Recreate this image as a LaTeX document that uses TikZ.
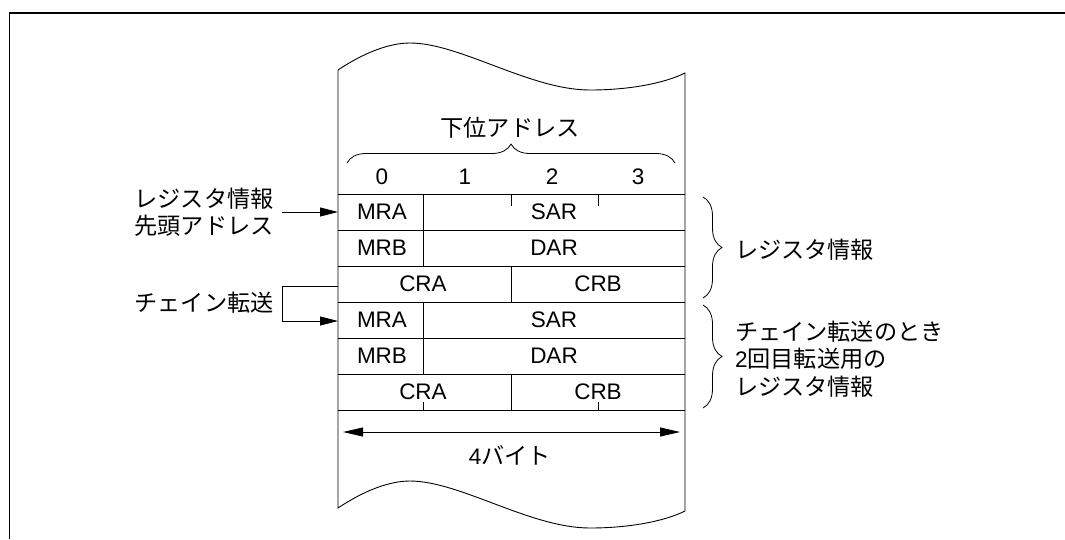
\documentclass[tikz,border=0pt]{standalone}
\usepackage{fontspec}
\setmainfont{Liberation Sans}
\newfontfamily\jp[Scale=1.03]{Noto Sans CJK JP}
\usetikzlibrary{decorations.pathreplacing,arrows.meta}
\begin{document}
\begin{tikzpicture}[x=1pt,y=-1pt,line width=0.9pt,
  font=\fontsize{22.5}{27.5}\selectfont,
  lbl/.style={inner sep=0pt,outer sep=0pt},
  arr/.style={-{Triangle[length=18pt,width=9pt]}},
  dblarr/.style={{Triangle[length=20pt,width=9pt]}-{Triangle[length=20pt,width=9pt]}},
  brc/.style={decorate,decoration={brace,amplitude=19pt},line width=0.8pt}]
\useasboundingbox (0,0) rectangle (1065,539);
% frame
\draw[line width=1.3pt] (1065,13) -- (9.5,13) -- (9.5,539);
% paper sheet
\draw (338,70) .. controls (365,52) and (390,43) .. (410,43)
  .. controls (460,43) and (530,90) .. (590,90)
  .. controls (630,90) and (665,83) .. (685,73) -- (685,511)
  .. controls (665,521) and (630,528) .. (590,528)
  .. controls (530,528) and (460,481) .. (410,481)
  .. controls (390,481) and (365,490) .. (338,508) -- cycle;
% rows
\foreach \y in {194,230,...,410} \draw (338,\y) -- (685,\y);
% dividers
\draw (423,194) -- (423,266);
\draw (511,266) -- (511,302);
\draw (423,302) -- (423,374);
\draw (511,374) -- (511,410);
% ticks
\draw (511,194) -- (511,206);
\draw (598,194) -- (598,206);
\draw (423,402) -- (423,410);
\draw (598,402) -- (598,410);
% header
\node[lbl] (head) at (510,128) {\jp 下位アドレス};
\draw[brc] (347,163) -- (675,163);
\node[lbl] (d0) at (382,177) {0};
\node[lbl] (d1) at (465,177) {1};
\node[lbl] (d2) at (552,177) {2};
\node[lbl] (d3) at (638,177) {3};
% cells
\node[lbl] (mra1) at (382,212) {MRA};
\node[lbl] (sar1) at (554,212) {SAR};
\node[lbl] (mrb1) at (382,248) {MRB};
\node[lbl] (dar1) at (554,248) {DAR};
\node[lbl] (cra1) at (423,284) {CRA};
\node[lbl] (crb1) at (598,284) {CRB};
\node[lbl] (mra2) at (382,320) {MRA};
\node[lbl] (sar2) at (554,320) {SAR};
\node[lbl] (mrb2) at (382,356) {MRB};
\node[lbl] (dar2) at (554,356) {DAR};
\node[lbl] (cra2) at (423,392) {CRA};
\node[lbl] (crb2) at (598,392) {CRB};
% left labels
\node[lbl,align=center] (lab1) at (204,212) {{\jp レジスタ情報}\\{\jp 先頭アドレス}};
\node[lbl] (lab2) at (204,303) {\jp チェイン転送};
\coordinate (a1) at (282,212);
\coordinate (in1) at (338,212);
\coordinate (cb) at (338,286);
\coordinate (in2) at (338,321);
\draw[arr] (a1) -- (in1);
\draw[arr] (cb) -- ++(-56,0) |- (in2);
% bottom arrow
\coordinate (bl) at (343,432);
\coordinate (br) at (680,432);
\draw[dblarr] (bl) -- (br);
\node[lbl] (bytes) at (510,455) {4{\jp バイト}};
% right braces
\draw[brc] (703,197) -- (703,298);
\draw[brc] (703,305) -- (703,408);
\node[lbl,anchor=west] (ri1) at (735,250) {\jp レジスタ情報};
\node[lbl,anchor=west,align=left] (ri2) at (735,359) {{\jp チェイン転送のとき}\\2{\jp 回目転送用の}\\{\jp レジスタ情報}};
\end{tikzpicture}
\end{document}
